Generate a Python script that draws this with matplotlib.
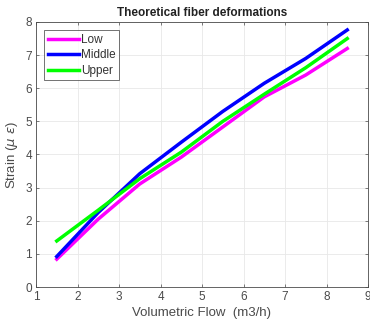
import numpy as np
import matplotlib
matplotlib.use('Agg')
import matplotlib.pyplot as plt

plt.rcParams['font.family'] = ['Liberation Sans', 'DejaVu Sans']

flow = [1.5, 2.5, 3.5, 4.5, 5.5, 6.5, 7.5, 8.5]
low = [0.84, 2.05, 3.11, 3.92, 4.83, 5.74, 6.40, 7.20]
middle = [0.92, 2.25, 3.42, 4.37, 5.30, 6.15, 6.90, 7.76]
upper = [1.39, 2.32, 3.27, 4.07, 5.00, 5.82, 6.62, 7.50]

grey = '#4a4a4a'

fig = plt.figure(figsize=(3.7, 3.22), dpi=100)
ax = fig.add_axes([36 / 370, 1 - 287 / 322, 332 / 370, 265 / 322])

ax.plot(flow, low, color='#ff00ff', lw=2.5, label='Low')
ax.plot(flow, middle, color='#0000ff', lw=2.5, label='Middle')
ax.plot(flow, upper, color='#00ff00', lw=2.5, label='Upper')

ax.set_xlim(1, 9)
ax.set_ylim(0, 8)
ax.set_xticks(range(1, 10))
ax.set_yticks(range(0, 9))
ax.grid(True, color='#e8e8e8', lw=0.6)
ax.set_axisbelow(True)
for s in ax.spines.values():
    s.set_color(grey)
    s.set_linewidth(0.6)
ax.tick_params(labelsize=8.5, colors=grey, length=2.5, width=0.5,
               direction='in', top=True, right=True, pad=3)

ax.set_title('Theoretical fiber deformations', fontsize=8.5, fontweight='bold',
             color='#222222', pad=4)
ax.set_xlabel('Volumetric Flow  (m3/h)', fontsize=9.5, color=grey, labelpad=3)
ax.set_ylabel(r'Strain ($\mu\ \epsilon$)', fontsize=9.5, color=grey, labelpad=4)

leg = ax.legend(loc='upper left', fontsize=8.5, frameon=True, fancybox=False,
                edgecolor='#333333', handlelength=2.6, handletextpad=0.2,
                borderpad=0.3, labelspacing=0.3, borderaxespad=0.7)
leg.get_frame().set_linewidth(0.6)
for t in leg.get_texts():
    t.set_color('#333333')

fig.savefig('out.png', dpi=100)
